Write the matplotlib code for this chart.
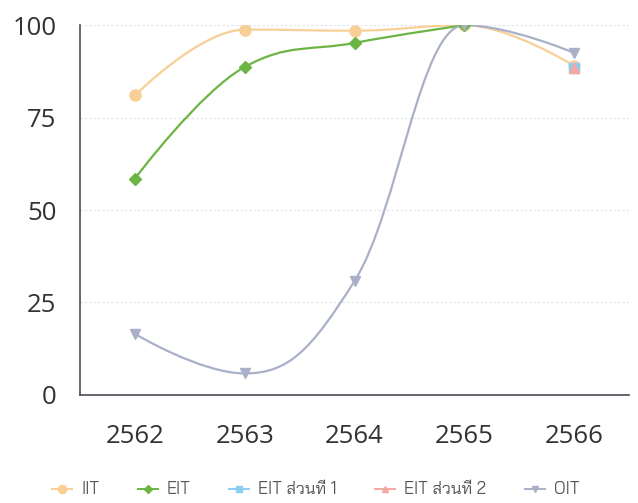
import numpy as np
import matplotlib
matplotlib.use("Agg")
import matplotlib.pyplot as plt
from matplotlib.path import Path
from matplotlib.patches import PathPatch
from matplotlib.lines import Line2D

# years (categories)
years = ["2562", "2563", "2564", "2565", "2566"]

# series values (None = no point)
iit = [81, 98.8, 98.5, 100, 89]
eit = [58.5, 88.7, 95.2, 100, None]
eit_part1 = [None, None, None, None, 88.5]
eit_part2 = [None, None, None, None, 88.5]
oit = [16.5, 5.8, 30.8, 100, 92.5]

names = ["IIT", "EIT", "EIT ส่วนที่ 1", "EIT ส่วนที่ 2", "OIT"]
colors = ["#f8cf96", "#6cb544", "#8ccdf2", "#f4a7a0", "#a9b0c8"]
markers = ["o", "D", "s", "^", "v"]
msizes = [8, 6, 7, 7, 7]


def spline_path(xs, ys):
    # Highcharts-like spline (smoothing 1.5)
    smoothing = 1.5
    denom = smoothing + 1
    n = len(xs)
    right = [None] * n
    left = [None] * n
    for i in range(1, n - 1):
        px, py = xs[i], ys[i]
        lx, ly = xs[i - 1], ys[i - 1]
        nx, ny = xs[i + 1], ys[i + 1]
        lcx = (smoothing * px + lx) / denom
        lcy = (smoothing * py + ly) / denom
        rcx = (smoothing * px + nx) / denom
        rcy = (smoothing * py + ny) / denom
        corr = 0
        if rcx != lcx:
            corr = (rcy - lcy) * (rcx - px) / (rcx - lcx) + py - rcy
        lcy += corr
        rcy += corr
        if lcy > ly and lcy > py:
            lcy = max(ly, py)
            rcy = 2 * py - lcy
        elif lcy < ly and lcy < py:
            lcy = min(ly, py)
            rcy = 2 * py - lcy
        if rcy > ny and rcy > py:
            rcy = max(ny, py)
            lcy = 2 * py - rcy
        elif rcy < ny and rcy < py:
            rcy = min(ny, py)
            lcy = 2 * py - rcy
        left[i] = (lcx, lcy)
        right[i] = (rcx, rcy)
    verts = [(xs[0], ys[0])]
    codes = [Path.MOVETO]
    for i in range(1, n):
        c1 = right[i - 1] if right[i - 1] else (xs[i - 1], ys[i - 1])
        c2 = left[i] if left[i] else (xs[i], ys[i])
        verts += [c1, c2, (xs[i], ys[i])]
        codes += [Path.CURVE4, Path.CURVE4, Path.CURVE4]
    return Path(verts, codes)


fig = plt.figure(figsize=(6.38, 5.03), dpi=100)
ax = fig.add_axes([0.1254, 0.215, 0.8606, 0.735])

series = [iit, eit, eit_part1, eit_part2, oit]
for vals, c, m, ms in zip(series, colors, markers, msizes):
    xs = [i for i, v in enumerate(vals) if v is not None]
    ys = [v for v in vals if v is not None]
    if len(xs) > 1:
        ax.add_patch(PathPatch(spline_path(xs, ys), fill=False, edgecolor=c, lw=1.6, zorder=3))
    ax.plot(xs, ys, linestyle="none", marker=m, color=c, markersize=ms, zorder=4)

ax.set_xlim(-0.5, 4.5)
ax.set_ylim(0, 100)
ax.set_yticks([0, 25, 50, 75, 100])
ax.set_xticks(range(len(years)))
ax.set_xticklabels(years)
ax.grid(axis="y", color="#dde3ea", linestyle=(0, (2, 2)), lw=0.8)
ax.set_axisbelow(True)
for s in ["top", "right"]:
    ax.spines[s].set_visible(False)
ax.spines["left"].set_color("#4a4d55")
ax.spines["bottom"].set_color("#4a4d55")
ax.spines["left"].set_linewidth(1.2)
ax.spines["bottom"].set_linewidth(1.2)
ax.tick_params(length=0, labelsize=18.5, labelcolor="#333333", pad=17)
ax.tick_params(axis="x", pad=21)
for lab in ax.get_xticklabels() + ax.get_yticklabels():
    lab.set_family("Open Sans")

handles = [Line2D([0], [0], color=c, marker=m, markersize=ms - 2, lw=1.4)
           for c, m, ms in zip(colors, markers, msizes)]
leg = fig.legend(handles, names, loc="center", bbox_to_anchor=(0.495, 0.026), ncol=5,
                 frameon=False, handlelength=1.2, columnspacing=2.3, handletextpad=0.55,
                 prop={"family": "Bai Jamjuree", "size": 12})
for t in leg.get_texts():
    t.set_color("#555555")

fig.savefig("out.png")
